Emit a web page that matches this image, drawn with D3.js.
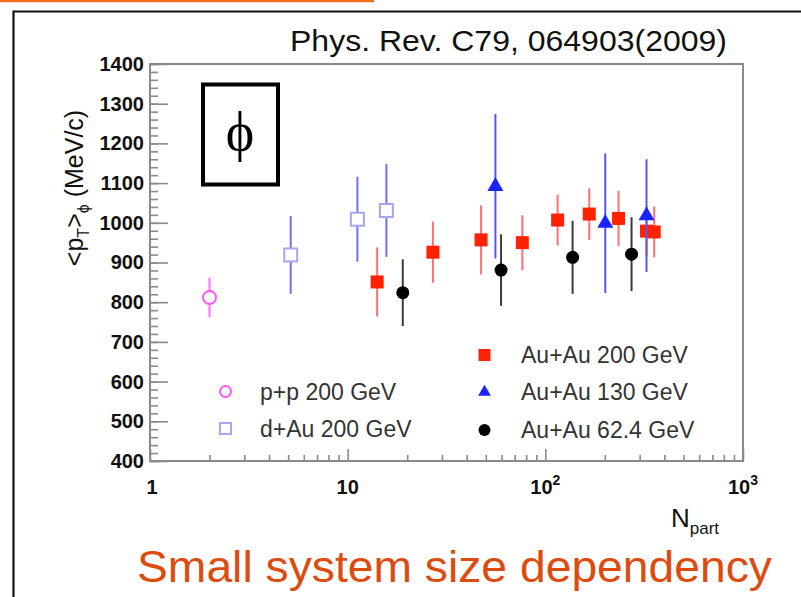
<!DOCTYPE html>
<html><head><meta charset="utf-8">
<script src="https://cdn.jsdelivr.net/npm/d3@7"></script>
<style>body{margin:0;background:#fff}svg{display:block}</style>
</head><body>
<svg id="c" width="801" height="597"></svg>
<script>
// ---- data (Npart, <pT> in MeV/c, error) ----
const ppNpart = [2.0];
const ppMean = [812];
const ppErr = [50];

const dAuNpart = [5.15, 11.2, 15.7];
const dAuMean = [919, 1009, 1031];
const dAuErr = [98, 107, 117];

const au200Npart = [14.1, 27, 47.3, 76.5, 115.4, 166.8, 234.6, 325, 355.5];
const au200Mean = [851, 926, 957, 950, 1007, 1022, 1011, 979, 977];
const au200Err = [87, 77, 87, 69, 64, 65, 70, 62, 64];

const au130Npart = [55.9, 201, 325];
const au130Mean = [1092, 999, 1018];
const au130Err = [182, 176, 142];

const au62Npart = [19.0, 59.7, 137.4, 273];
const au62Mean = [824, 881, 913, 921];
const au62Err = [84, 90, 92, 93];

const yTicks = [400, 500, 600, 700, 800, 900, 1000, 1100, 1200, 1300, 1400];
const xTickLabels = [["1", ""], ["10", ""], ["10", "2"], ["10", "3"]];
const xTickValues = [1, 10, 100, 1000];

const svg = d3.select("#c");
const font = "'Liberation Sans', Arial, Helvetica, sans-serif";

// page decorations
svg.append("line").attr("x1", 0).attr("x2", 374).attr("y1", 1).attr("y2", 1)
  .attr("stroke", "#f26a1a").attr("stroke-width", 2.5);
svg.append("path").attr("d", "M13.5,597V11.5H801").attr("fill", "none")
  .attr("stroke", "#111").attr("stroke-width", 2.2);

const x = d3.scaleLog().domain([1, 1000]).range([150, 743]);
const y = d3.scaleLinear().domain([400, 1400]).range([461, 64]);

const axisCol = "#8a8a8a";

// frame
svg.append("rect").attr("x", x(1)).attr("y", y(1400))
  .attr("width", x(1000) - x(1)).attr("height", y(400) - y(1400))
  .attr("fill", "none").attr("stroke", axisCol).attr("stroke-width", 2);

// y axis minor ticks
const yMinor = d3.range(400, 1401, 20);
svg.append("g").attr("transform", `translate(${x(1)},0)`)
  .call(d3.axisLeft(y).tickValues(yMinor).tickSize(-8).tickFormat(""))
  .call(g => { g.select(".domain").remove(); g.selectAll("line").attr("stroke", axisCol).attr("stroke-width", 1.6); });
// y major
svg.append("g").attr("transform", `translate(${x(1)},0)`)
  .call(d3.axisLeft(y).tickValues(yTicks).tickSize(-18).tickPadding(6).tickFormat(d3.format("d")))
  .call(g => {
    g.select(".domain").remove();
    g.selectAll("line").attr("stroke", axisCol).attr("stroke-width", 1.6);
    g.selectAll("text").attr("font-family", font).attr("font-weight", "bold")
      .attr("font-size", 20).attr("fill", "#111");
  });

// x minor ticks
const xMinor = [];
[1, 10, 100].forEach(d => { for (let k = 2; k <= 9; k++) xMinor.push(d * k); });
svg.append("g").attr("transform", `translate(0,${y(400)})`)
  .call(d3.axisBottom(x).tickValues(xMinor).tickSize(-6).tickFormat(""))
  .call(g => { g.select(".domain").remove(); g.selectAll("line").attr("stroke", axisCol).attr("stroke-width", 1.6); });
// x major
svg.append("g").attr("transform", `translate(0,${y(400)})`)
  .call(d3.axisBottom(x).tickValues(xTickValues).tickSize(-12).tickFormat(""))
  .call(g => { g.select(".domain").remove(); g.selectAll("line").attr("stroke", axisCol).attr("stroke-width", 1.6); });
xTickValues.forEach((v, i) => {
  const t = svg.append("text").attr("x", x(v) + (i === 0 ? 2 : 0)).attr("y", 494)
    .attr("text-anchor", "middle").attr("font-family", font).attr("font-weight", "bold")
    .attr("font-size", 20).attr("fill", "#111");
  t.append("tspan").text(xTickLabels[i][0]);
  if (xTickLabels[i][1]) t.append("tspan").attr("dy", -9).attr("font-size", 14).text(xTickLabels[i][1]);
});

// axis titles
const yt = svg.append("text").attr("transform", "translate(83,188) rotate(-90)")
  .attr("text-anchor", "middle").attr("font-family", font).attr("font-size", 25).attr("fill", "#111");
yt.append("tspan").text("<p");
yt.append("tspan").attr("dy", 6).attr("font-size", 16).text("T");
yt.append("tspan").attr("dy", -6).text(">");
yt.append("tspan").attr("dy", 6).attr("font-size", 16).text("ϕ");
yt.append("tspan").attr("dy", -6).text(" (MeV/c)");

const nt = svg.append("text").attr("x", 671).attr("y", 527).attr("font-family", font)
  .attr("font-size", 26).attr("fill", "#111");
nt.append("tspan").text("N");
nt.append("tspan").attr("dy", 7).attr("font-size", 17).text("part");

// reference text
svg.append("text").attr("x", 290).attr("y", 51).attr("font-family", font)
  .attr("font-size", 29).attr("fill", "#111").attr("textLength", 437)
  .attr("lengthAdjust", "spacingAndGlyphs").text("Phys. Rev. C79, 064903(2009)");

// phi box
svg.append("rect").attr("x", 203).attr("y", 84.5).attr("width", 75).attr("height", 100)
  .attr("fill", "#fff").attr("stroke", "#000").attr("stroke-width", 4);
svg.append("text").attr("x", 240).attr("y", 150).attr("text-anchor", "middle")
  .attr("font-family", "'Liberation Serif', 'DejaVu Serif', serif").attr("font-size", 54)
  .attr("fill", "#000").text("ϕ");

// bottom caption
svg.append("text").attr("x", 137).attr("y", 582).attr("font-family", font)
  .attr("font-size", 44).attr("fill", "#dd4b0f").attr("textLength", 635)
  .attr("lengthAdjust", "spacingAndGlyphs").text("Small system size dependency");

// ---- data drawing ----
const data = (N, M, E) => N.map((n, i) => ({ n, m: M[i], e: E[i] }));
function errBars(d, col) {
  svg.append("g").selectAll("line").data(d).join("line")
    .attr("x1", p => x(p.n)).attr("x2", p => x(p.n))
    .attr("y1", p => y(p.m - p.e)).attr("y2", p => y(p.m + p.e))
    .attr("stroke", col).attr("stroke-width", 2);
}
const sq = 13;
function squares(d, fill, stroke, sw) {
  svg.append("g").selectAll("rect").data(d).join("rect")
    .attr("x", p => x(p.n) - sq / 2).attr("y", p => y(p.m) - sq / 2)
    .attr("width", sq).attr("height", sq).attr("fill", fill)
    .attr("stroke", stroke || "none").attr("stroke-width", sw || 0);
}
function circles(d, fill, stroke, sw, r) {
  svg.append("g").selectAll("circle").data(d).join("circle")
    .attr("cx", p => x(p.n)).attr("cy", p => y(p.m)).attr("r", r)
    .attr("fill", fill).attr("stroke", stroke || "none").attr("stroke-width", sw || 0);
}
const triPath = d3.symbol(d3.symbolTriangle, 110);
function triangles(d, fill) {
  svg.append("g").selectAll("path").data(d).join("path")
    .attr("transform", p => `translate(${x(p.n)},${y(p.m)})`)
    .attr("d", triPath).attr("fill", fill);
}

const pp = data(ppNpart, ppMean, ppErr);
const dAu = data(dAuNpart, dAuMean, dAuErr);
const a200 = data(au200Npart, au200Mean, au200Err);
const a130 = data(au130Npart, au130Mean, au130Err);
const a62 = data(au62Npart, au62Mean, au62Err);

errBars(pp, "#ff70ff");
circles(pp, "#fff", "#ff55ff", 2, 6.5);
errBars(dAu, "#6f6fff");
squares(dAu, "#fff", "#a6a6f2", 2);
errBars(a200, "#ff7070");
squares(a200, "#ff2200");
errBars(a130, "#5555ff");
triangles(a130, "#1a22ff");
errBars(a62, "#3a3a3a");
circles(a62, "#000", null, 0, 6.5);

// ---- legend ----
const legFont = 23;
function legText(tx, ty, s) {
  svg.append("text").attr("x", tx).attr("y", ty).attr("font-family", font)
    .attr("font-size", legFont).attr("fill", "#333").text(s);
}
svg.append("circle").attr("cx", 225.5).attr("cy", 391.5).attr("r", 5.5)
  .attr("fill", "#fff").attr("stroke", "#ff55ff").attr("stroke-width", 2);
legText(260, 400, "p+p 200 GeV");
svg.append("rect").attr("x", 220).attr("y", 423).attr("width", 11).attr("height", 11)
  .attr("fill", "#fff").attr("stroke", "#a6a6f2").attr("stroke-width", 2);
legText(260, 437, "d+Au 200 GeV");
svg.append("rect").attr("x", 478.5).attr("y", 349).attr("width", 12).attr("height", 12).attr("fill", "#ff2200");
legText(521, 363, "Au+Au 200 GeV");
svg.append("path").attr("transform", "translate(484.5,392)").attr("d", d3.symbol(d3.symbolTriangle, 70)).attr("fill", "#1a22ff");
legText(521, 400, "Au+Au 130 GeV");
svg.append("circle").attr("cx", 484.5).attr("cy", 430).attr("r", 6).attr("fill", "#000");
legText(521, 438, "Au+Au 62.4 GeV");
</script>
</body></html>
